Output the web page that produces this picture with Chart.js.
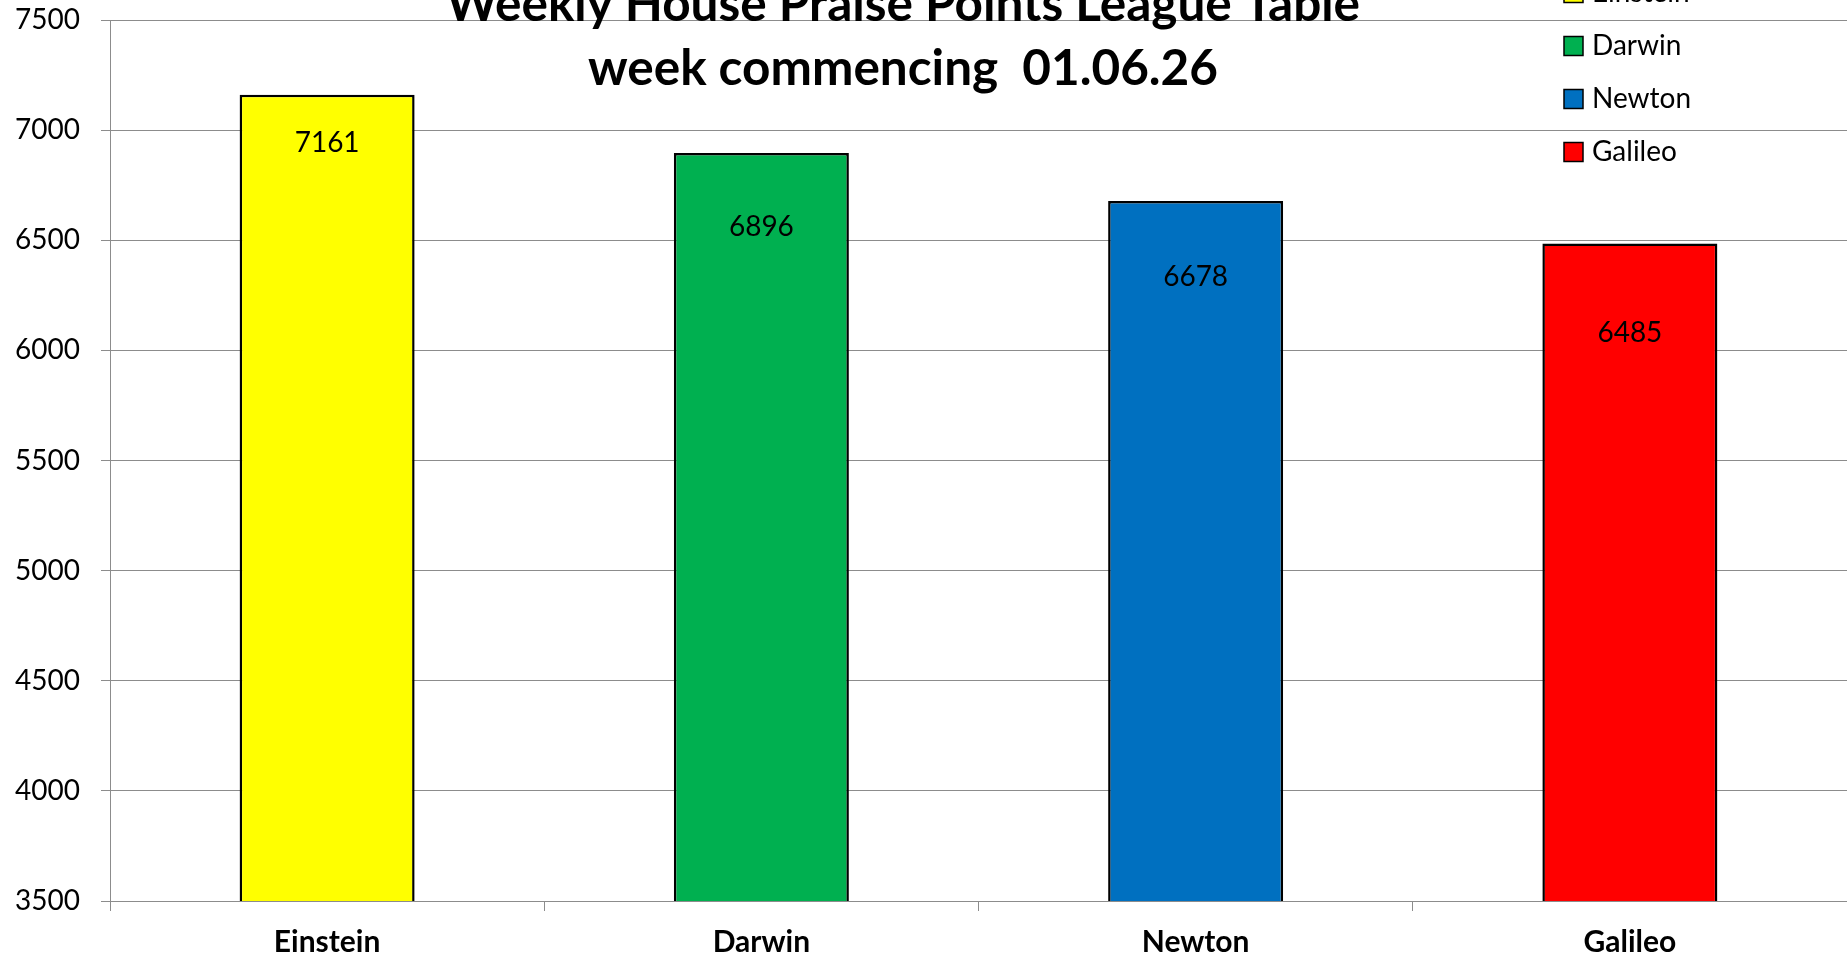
<!DOCTYPE html>
<html><head><meta charset="utf-8">
<script src="https://cdn.jsdelivr.net/npm/chart.js@4.4.1/dist/chart.umd.min.js"></script>
<style>html,body{margin:0;padding:0;background:#fff;overflow:hidden}#wrap{position:relative;width:1847px;height:958px}</style>
</head><body><div id="wrap"><canvas id="c"></canvas></div>
<script>
const categories = ['Einstein', 'Darwin', 'Newton', 'Galileo'];
const points = [7161, 6896, 6678, 6485];
const barColors = ['#FFFF00', '#00B050', '#0070C0', '#FF0000'];
const yTickValues = [3500, 4000, 4500, 5000, 5500, 6000, 6500, 7000, 7500];
const titleLines = ['Weekly House Praise Points League Table', 'week commencing  01.06.26'];

const GRID = '#8c8c8c';

const titlePlugin = {
  id: 'manualTitle',
  afterDraw(chart, args, opts) {
    const ctx = chart.ctx;
    ctx.save();
    ctx.fillStyle = '#000';
    ctx.font = opts.font;
    ctx.textAlign = 'center';
    ctx.textBaseline = 'alphabetic';
    opts.lines.forEach((t, i) => ctx.fillText(t, opts.x, opts.baselines[i]));
    ctx.restore();
  }
};

const legendPlugin = {
  id: 'manualLegend',
  afterDraw(chart, args, opts) {
    const ctx = chart.ctx;
    ctx.save();
    ctx.font = opts.font;
    ctx.textBaseline = 'middle';
    ctx.textAlign = 'left';
    categories.forEach((name, i) => {
      const cy = opts.firstY + i * opts.step;
      ctx.fillStyle = barColors[i];
      ctx.fillRect(opts.boxX, cy - opts.box / 2, opts.box, opts.box);
      ctx.lineWidth = 1.5;
      ctx.strokeStyle = '#000';
      ctx.strokeRect(opts.boxX, cy - opts.box / 2, opts.box, opts.box);
      ctx.fillStyle = '#000';
      ctx.fillText(name, opts.textX, cy);
    });
    ctx.restore();
  }
};

const valueLabelPlugin = {
  id: 'valueLabels',
  afterDatasetsDraw(chart, args, opts) {
    const ctx = chart.ctx;
    const meta = chart.getDatasetMeta(0);
    ctx.save();
    ctx.font = opts.font;
    ctx.fillStyle = '#000';
    ctx.textAlign = 'center';
    ctx.textBaseline = 'middle';
    meta.data.forEach((bar, i) => {
      const v = chart.data.datasets[0].data[i];
      ctx.fillText(String(v), bar.x, bar.y + opts.offsets[i]);
    });
    ctx.restore();
  }
};

new Chart(document.getElementById('c'), {
  type: 'bar',
  data: {
    labels: categories,
    datasets: [{
      data: points,
      backgroundColor: barColors,
      borderColor: '#000',
      borderWidth: 2.5,
      barPercentage: 0.403,
      categoryPercentage: 1
    }]
  },
  options: {
    responsive: true,
    maintainAspectRatio: false,
    animation: false,
    layout: { padding: { top: 20, right: 0, bottom: 0, left: 0 } },
    plugins: {
      legend: { display: false },
      tooltip: { enabled: false },
      title: { display: false },
      manualTitle: {
        lines: titleLines,
        font: 'bold 49.5px Lato',
        x: 903,
        baselines: [21, 85]
      },
      manualLegend: {
        font: '28px Lato',
        firstY: -7,
        step: 53,
        box: 19,
        boxX: 1564,
        textX: 1592
      },
      valueLabels: {
        font: '28px Lato',
        offsets: [48, 74, 76, 89]
      }
    },
    scales: {
      x: {
        grid: { display: true, drawOnChartArea: false, drawTicks: true, tickLength: 10, color: GRID, offset: true },
        border: { display: true, color: GRID, width: 1 },
        ticks: { color: '#000', font: { family: 'Lato', size: 30, weight: 'bold' }, padding: 13, maxRotation: 0, autoSkip: false },
        afterFit: s => { s.height = 57; s.paddingLeft = 0; s.paddingRight = 0; }
      },
      y: {
        min: 3500,
        max: 7500,
        afterBuildTicks: s => { s.ticks = yTickValues.map(v => ({ value: v })); },
        grid: { color: GRID, lineWidth: 1, drawTicks: true, tickLength: 9 },
        border: { display: true, color: GRID, width: 1 },
        ticks: { color: '#000', font: { family: 'Lato', size: 28 }, padding: 21, callback: v => String(v) },
        afterFit: s => { s.width = 110; s.paddingTop = 0; s.paddingBottom = 0; }
      }
    }
  },
  plugins: [valueLabelPlugin, legendPlugin, titlePlugin]
});
</script></body></html>
